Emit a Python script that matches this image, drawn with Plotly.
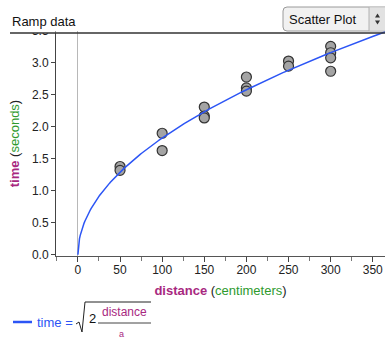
import numpy as np
import plotly.graph_objects as go

# ---- data ----
distance = [50, 50, 100, 100, 150, 150, 150, 200, 200, 200, 250, 250, 300, 300, 300, 300]
time_s   = [1.38, 1.32, 1.90, 1.63, 2.31, 2.17, 2.14, 2.78, 2.61, 2.56, 3.03, 2.95, 3.26, 3.16, 3.08, 2.87]
accel_a = 60.0  # parameter a of the model time = sqrt(2*distance/a)
y_ticks = [0.0, 0.5, 1.0, 1.5, 2.0, 2.5, 3.0, 3.5]
x_ticks = [0, 50, 100, 150, 200, 250, 300, 350]

MAG = "#a8287f"
GRN = "#2e9a2e"
BLUE = "#2c55f5"
FONT = "Liberation Sans, Arial, sans-serif"

W, H = 385, 337
L, R, T, B = 56, 0, 31, 81
PW, PH = W - L - R, H - T - B


def px(x):
    return (x - L) / PW


def py(y):
    return (H - B - y) / PH


curve_x = np.linspace(0, 366, 400)
curve_y = np.sqrt(2 * curve_x / accel_a)

fig = go.Figure()
fig.add_trace(go.Scatter(
    x=distance, y=time_s, mode="markers",
    marker=dict(size=10, color="#a4a4a4", line=dict(width=1.2, color="#333333")),
    showlegend=False, hoverinfo="skip"))
fig.add_trace(go.Scatter(
    x=curve_x, y=curve_y, mode="lines",
    line=dict(color=BLUE, width=1.5), showlegend=False, hoverinfo="skip"))

shapes = []
# white cover above plot on left (clips 3.5 label)
shapes.append(dict(type="rect", xref="paper", yref="paper", x0=px(0), x1=px(L - 0.5),
                   y0=py(33), y1=py(0), fillcolor="white", line=dict(width=0), layer="above"))
# title underline
shapes.append(dict(type="line", xref="paper", yref="paper", x0=px(10), x1=px(W), y0=py(33), y1=py(33),
                   line=dict(color="#333333", width=1.5), layer="above"))

# dropdown button (rounded rect)
x0, x1, y0, y1 = 283, W + 4, 7, 31
r = 4
path = (f"M {px(x0 + r)},{py(y0)} L {px(x1)},{py(y0)} L {px(x1)},{py(y1)} L {px(x0 + r)},{py(y1)} "
        f"Q {px(x0)},{py(y1)} {px(x0)},{py(y1 - r)} L {px(x0)},{py(y0 + r)} "
        f"Q {px(x0)},{py(y0)} {px(x0 + r)},{py(y0)} Z")
shapes.append(dict(type="path", xref="paper", yref="paper", path=path,
                   fillcolor="#f1f1f1", line=dict(color="#9a9a9a", width=1), layer="above"))
shapes.append(dict(type="rect", xref="paper", yref="paper", x0=px(369), x1=px(W), y0=py(y1 - 0.5), y1=py(y0 + 0.5),
                   fillcolor="#e2e2e2", line=dict(width=0), layer="above"))
shapes.append(dict(type="line", xref="paper", yref="paper", x0=px(369), x1=px(369), y0=py(y0), y1=py(y1),
                   line=dict(color="#b0b0b0", width=1), layer="above"))
cx = 377.5
shapes.append(dict(type="path", xref="paper", yref="paper",
                   path=f"M {px(cx - 2.5)},{py(17.5)} L {px(cx + 2.5)},{py(17.5)} L {px(cx)},{py(13.5)} Z",
                   fillcolor="#333333", line=dict(width=0), layer="above"))
shapes.append(dict(type="path", xref="paper", yref="paper",
                   path=f"M {px(cx - 2.5)},{py(20.5)} L {px(cx + 2.5)},{py(20.5)} L {px(cx)},{py(24.5)} Z",
                   fillcolor="#333333", line=dict(width=0), layer="above"))

# legend formula
shapes.append(dict(type="line", xref="paper", yref="paper", x0=px(13), x1=px(32), y0=py(322), y1=py(322),
                   line=dict(color=BLUE, width=2.5), layer="above"))
shapes.append(dict(type="path", xref="paper", yref="paper",
                   path=(f"M {px(76)},{py(324)} L {px(79)},{py(322)} L {px(82)},{py(332)} "
                         f"L {px(85)},{py(302)} L {px(151)},{py(302)}"),
                   line=dict(color="#222222", width=1), layer="above"))
shapes.append(dict(type="line", xref="paper", yref="paper", x0=px(98), x1=px(151), y0=py(323), y1=py(323),
                   line=dict(color="#444444", width=1), layer="above"))

annotations = [
    dict(text="Ramp data", xref="paper", yref="paper", x=px(10), y=py(22), xanchor="left", yanchor="middle",
         showarrow=False, font=dict(size=13, color="#111111", family=FONT)),
    dict(text="Scatter Plot", xref="paper", yref="paper", x=px(287), y=py(19.5), xanchor="left", yanchor="middle",
         showarrow=False, font=dict(size=13, color="#111111", family=FONT)),
    dict(text="time =", xref="paper", yref="paper", x=px(35), y=py(322), xanchor="left", yanchor="middle",
         showarrow=False, font=dict(size=13, color=BLUE, family=FONT)),
    dict(text="2", xref="paper", yref="paper", x=px(92), y=py(318), xanchor="center", yanchor="middle",
         showarrow=False, font=dict(size=13, color="#111111", family=FONT)),
    dict(text="distance", xref="paper", yref="paper", x=px(124.5), y=py(312), xanchor="center", yanchor="middle",
         showarrow=False, font=dict(size=12, color=MAG, family=FONT)),
    dict(text="a", xref="paper", yref="paper", x=px(121), y=py(334), xanchor="center", yanchor="middle",
         showarrow=False, font=dict(size=9, color=MAG, family=FONT)),
]

fig.update_layout(
    width=W, height=H,
    margin=dict(l=L, r=R, t=T, b=B, pad=0),
    paper_bgcolor="white", plot_bgcolor="white",
    font=dict(family=FONT, size=12, color="#222222"),
    shapes=shapes, annotations=annotations,
    xaxis=dict(
        range=[-26, 364.5], tickmode="array", tickvals=x_ticks, ticktext=[str(v) for v in x_ticks],
        ticks="outside", ticklen=5, tickcolor="#444444", tickwidth=1, ticklabelstandoff=-2,
        minor=dict(dtick=25, tick0=0, ticks="outside", ticklen=4, tickcolor="#777777", showgrid=False),
        showline=True, linecolor="#555555", linewidth=1, mirror=False,
        showgrid=False, zeroline=True, zerolinecolor="#b8b8b8", zerolinewidth=1,
        tickfont=dict(size=12, color="#222222"),
        title=dict(text=f"<b><span style='color:{MAG}'>distance</span></b> (<span style='color:{GRN}'>centimeters</span>)",
                   font=dict(size=13, color="#222222"), standoff=9),
    ),
    yaxis=dict(
        range=[-0.02, 3.5], tickmode="array", tickvals=y_ticks, ticktext=[f"{v:.1f}" for v in y_ticks],
        ticks="outside", ticklen=4, tickcolor="#444444", tickwidth=1,
        showline=True, linecolor="#444444", linewidth=1,
        showgrid=False, zeroline=False,
        tickfont=dict(size=12, color="#222222"),
        title=dict(text=f"<b><span style='color:{MAG}'>time</span></b> (<span style='color:{GRN}'>seconds</span>)",
                   font=dict(size=13, color="#222222"), standoff=9),
    ),
)

fig.write_html("out.html", config={"displayModeBar": False},
               post_script="document.body.style.margin='0';document.body.style.overflow='hidden';")
